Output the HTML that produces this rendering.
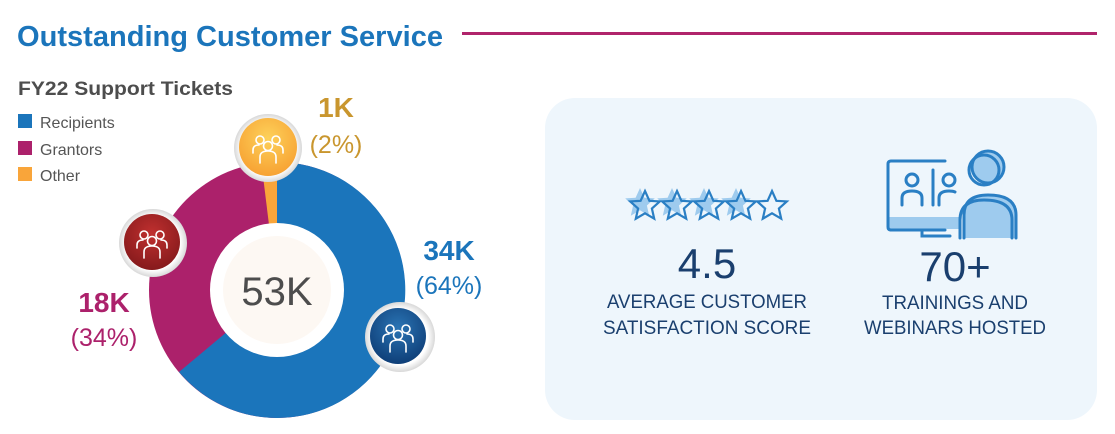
<!DOCTYPE html>
<html><head><meta charset="utf-8"><style>
html,body{margin:0;padding:0;background:#fff;}
svg{display:block;font-family:"Liberation Sans",sans-serif;}
</style></head><body>
<svg width="1115" height="434" viewBox="0 0 1115 434" xmlns="http://www.w3.org/2000/svg">
<defs>
<radialGradient id="gO" cx="50%" cy="35%" r="65%"><stop offset="0" stop-color="#fdd15a"/><stop offset="1" stop-color="#f7a233"/></radialGradient>
<radialGradient id="gR" cx="50%" cy="35%" r="65%"><stop offset="0" stop-color="#c0302f"/><stop offset="1" stop-color="#861a1c"/></radialGradient>
<radialGradient id="gB" cx="50%" cy="35%" r="65%"><stop offset="0" stop-color="#2a74b4"/><stop offset="1" stop-color="#0f3f78"/></radialGradient>
<radialGradient id="gW" cx="50%" cy="50%" r="50%"><stop offset="0.8" stop-color="#ffffff"/><stop offset="1" stop-color="#d8d8d8"/></radialGradient>
<g id="ppl" fill="none" stroke="#fff" stroke-width="1.6" stroke-linecap="round">
<circle cx="-8" cy="-9" r="4"/><circle cx="8" cy="-9" r="4"/><circle cx="0" cy="-3" r="4.5"/>
<path d="M-15 4 v-3 q0-5 6-5 M15 4 v-3 q0-5 -6-5"/>
<path d="M-8 14 v-6 q0-6 8-6 q8 0 8 6 v6"/>
</g>
<path id="star" d="M0,-15 L4.4,-5.2 L14.8,-4.6 L6.9,2.5 L9.2,12.7 L0,7.3 L-9.2,12.7 L-6.9,2.5 L-14.8,-4.6 L-4.4,-5.2 Z"/>
</defs>

<text x="17" y="46" font-size="29" font-weight="bold" fill="#1b75bb" textLength="426" lengthAdjust="spacingAndGlyphs">Outstanding Customer Service</text>
<rect x="462" y="32" width="635" height="3" fill="#b0246b"/>

<text x="18" y="95" font-size="19" font-weight="bold" fill="#4d4d4d" textLength="215" lengthAdjust="spacingAndGlyphs">FY22 Support Tickets</text>
<rect x="18" y="114" width="14" height="14" fill="#1b75bb"/>
<text x="40" y="128" font-size="16" fill="#555">Recipients</text>
<rect x="18" y="141" width="14" height="14" fill="#ac216b"/>
<text x="40" y="155" font-size="16" fill="#555">Grantors</text>
<rect x="18" y="167" width="14" height="14" fill="#f9a53a"/>
<text x="40" y="181" font-size="16" fill="#555">Other</text>

<circle cx="277" cy="290" r="128" fill="#ac216b"/>
<path d="M277,290 L277,162 A128,128 0 1 1 179,372 Z" fill="#1b75bb"/>
<path d="M277,290 L261.4,163 A128,128 0 0 1 277,162 Z" fill="#f9a53a"/>
<circle cx="277" cy="290" r="67" fill="#fff"/>
<circle cx="277" cy="290" r="54" fill="#fdf8f3"/>
<text x="277" y="305" font-size="40" fill="#4d4d4d" text-anchor="middle">53K</text>

<circle cx="268" cy="148" r="34" fill="url(#gW)"/>
<circle cx="268" cy="147" r="29" fill="url(#gO)"/>
<use href="#ppl" x="268" y="149"/>
<circle cx="153" cy="243" r="34" fill="url(#gW)"/>
<circle cx="152" cy="242" r="28" fill="url(#gR)"/>
<use href="#ppl" x="152" y="244"/>
<circle cx="400" cy="337" r="35" fill="url(#gW)"/>
<circle cx="398" cy="336" r="28" fill="url(#gB)"/>
<use href="#ppl" x="398" y="338"/>

<text x="336" y="117" font-size="28" font-weight="bold" fill="#c9962e" text-anchor="middle">1K</text>
<text x="336" y="153" font-size="25" fill="#c9962e" text-anchor="middle">(2%)</text>
<text x="449" y="260" font-size="28" font-weight="bold" fill="#1b75bb" text-anchor="middle">34K</text>
<text x="449" y="294" font-size="25" fill="#1b75bb" text-anchor="middle">(64%)</text>
<text x="104" y="312" font-size="28" font-weight="bold" fill="#ac216b" text-anchor="middle">18K</text>
<text x="104" y="346" font-size="25" fill="#ac216b" text-anchor="middle">(34%)</text>

<rect x="545" y="98" width="552" height="322" rx="30" fill="#eef6fc"/>
<g>
<use href="#star" x="640" y="203" fill="#9ecbee"/>
<use href="#star" x="672" y="203" fill="#9ecbee"/>
<use href="#star" x="704" y="203" fill="#9ecbee"/>
<use href="#star" x="736" y="203" fill="#9ecbee"/>
<use href="#star" x="645" y="206" fill="none" stroke="#2a7fc4" stroke-width="2.2"/>
<use href="#star" x="677" y="206" fill="none" stroke="#2a7fc4" stroke-width="2.2"/>
<use href="#star" x="709" y="206" fill="none" stroke="#2a7fc4" stroke-width="2.2"/>
<use href="#star" x="741" y="206" fill="none" stroke="#2a7fc4" stroke-width="2.2"/>
<use href="#star" x="772" y="206" fill="none" stroke="#2a7fc4" stroke-width="2.2"/>
</g>
<text x="707" y="278" font-size="42" fill="#1a3f6e" text-anchor="middle">4.5</text>
<text x="707" y="308" font-size="19" fill="#1a3f6e" text-anchor="middle" textLength="200" lengthAdjust="spacingAndGlyphs">AVERAGE CUSTOMER</text>
<text x="707" y="334" font-size="19" fill="#1a3f6e" text-anchor="middle" textLength="208" lengthAdjust="spacingAndGlyphs">SATISFACTION SCORE</text>

<g fill="none" stroke="#2a7fc4" stroke-width="3" stroke-linecap="round">
<rect x="889" y="217" width="70" height="12" fill="#9ecbee" stroke="none"/>
<path d="M945 161 H891 q-3 0 -3 3 V227 q0 3 3 3 H945 M922 230 V236 H950"/>
<line x1="933" y1="170" x2="933" y2="205"/>
<circle cx="912" cy="180" r="6"/><path d="M902 205 v-7 q0-7 10-7 q10 0 10 7 v7"/>
<circle cx="949" cy="180" r="6"/><path d="M939 205 v-7 q0-7 10-7 q4 0 6 1"/>
<circle cx="988" cy="167" r="16" fill="#9ecbee"/>
<circle cx="984" cy="170" r="15"/>
<path d="M964 238 V215 q0-20 24-20 q28 0 28 20 V238" fill="#9ecbee"/>
<path d="M960 238 V220 q0-20 24-20 q28 0 28 20 V238"/>
</g>
<text x="955" y="281" font-size="42" fill="#1a3f6e" text-anchor="middle">70+</text>
<text x="955" y="309" font-size="19" fill="#1a3f6e" text-anchor="middle" textLength="146" lengthAdjust="spacingAndGlyphs">TRAININGS AND</text>
<text x="955" y="334" font-size="19" fill="#1a3f6e" text-anchor="middle" textLength="182" lengthAdjust="spacingAndGlyphs">WEBINARS HOSTED</text>
</svg>
</body></html>
